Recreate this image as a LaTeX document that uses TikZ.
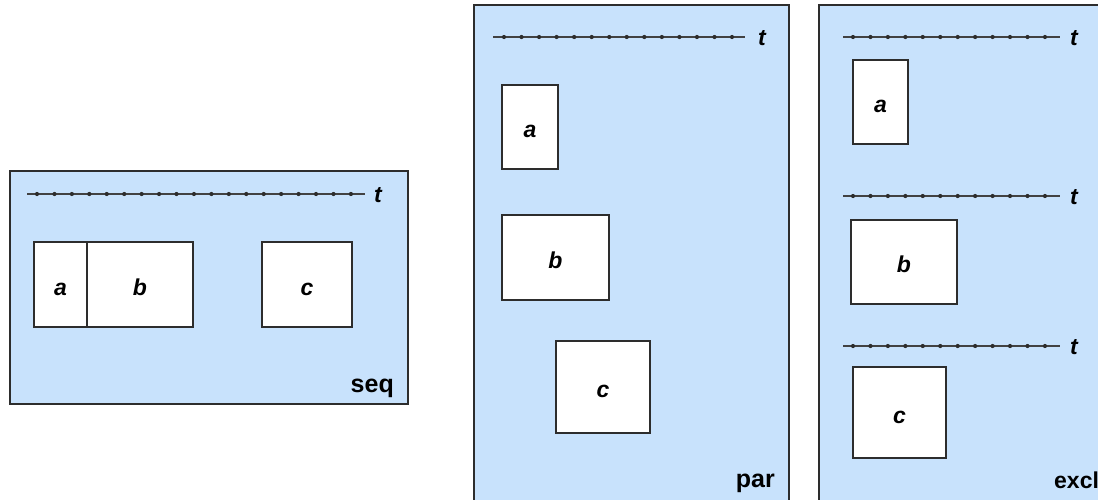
\documentclass[tikz,border=0pt]{standalone}
\usepackage{fontspec}
\setmainfont{Liberation Sans}
\definecolor{panelblue}{RGB}{200,226,252}
\definecolor{edgegray}{RGB}{45,45,45}
% timeline: #1 start x, #2 end x, #3 y, #4 first tick x, #5 tick spacing, #6 tick count
\newcommand\timeaxis[6]{%
  \draw[axis] (#1,#3) -- (#2,#3);
  \foreach \k in {1,...,#6} \fill[edgegray] ({#4+(\k-1)*#5},#3) circle (2.1pt);
}
\begin{document}
\begin{tikzpicture}[x=1pt,y=-1pt,
  panel/.style={fill=panelblue,draw=edgegray,line width=1.5pt},
  task/.style={draw=edgegray,fill=white,line width=1.6pt,inner sep=0pt,outer sep=0pt,
    anchor=north west,text height=21pt,text depth=0pt,
    font=\fontsize{23}{23}\selectfont\bfseries\itshape},
  axis/.style={draw=edgegray!90,line width=1.5pt},
  tlabel/.style={font=\fontsize{23}{23}\selectfont\bfseries\itshape,inner sep=0pt},
  kind/.style={font=\fontsize{25}{25}\selectfont\bfseries,inner sep=0pt,anchor=base east}]
\useasboundingbox (0,0) rectangle (1098,499);
\clip (0,0) rectangle (1098,499);

% ---- sequential composition ----
\draw[panel] (10,171) rectangle (408,404);
\timeaxis{27}{365}{194}{37}{17.44}{19}
\node[tlabel] (seqt) at (378,195) {t};
\node[task,minimum width=53pt,minimum height=85pt] (seqa) at (34,242) {a};
\node[task,minimum width=106pt,minimum height=85pt] (seqb) at (87,242) {b};
\node[task,minimum width=90pt,minimum height=85pt] (seqc) at (262,242) {c};
\node[kind] (seqk) at (394,392) {seq};

% ---- parallel composition ----
\draw[panel] (474,5) rectangle (789,520);
\timeaxis{493}{745}{37}{504}{17.54}{14}
\node[tlabel] (part) at (762,38) {t};
\node[task,minimum width=56pt,minimum height=84pt] (para) at (502,85) {a};
\node[task,minimum width=107pt,minimum height=85pt] (parb) at (502,215) {b};
\node[task,minimum width=94pt,minimum height=92pt] (parc) at (556,341) {c};
\node[kind] (park) at (775,487) {par};

% ---- exclusive composition ----
\draw[panel] (819,5) rectangle (1120,520);
\timeaxis{843}{1060}{37}{853}{17.45}{12}
\node[tlabel] (exta) at (1074,38) {t};
\timeaxis{843}{1060}{196}{853}{17.45}{12}
\node[tlabel] (extb) at (1074,197) {t};
\timeaxis{843}{1060}{346}{853}{17.45}{12}
\node[tlabel] (extc) at (1074,347) {t};
\node[task,minimum width=55pt,minimum height=84pt] (exa) at (853,60) {a};
\node[task,minimum width=106pt,minimum height=84pt] (exb) at (851,220) {b};
\node[task,minimum width=93pt,minimum height=91pt] (exc) at (853,367) {c};
\node[kind,anchor=base west,font=\fontsize{23}{23}\selectfont\bfseries] (exk) at (1054,488) {excl};
\end{tikzpicture}
\end{document}
